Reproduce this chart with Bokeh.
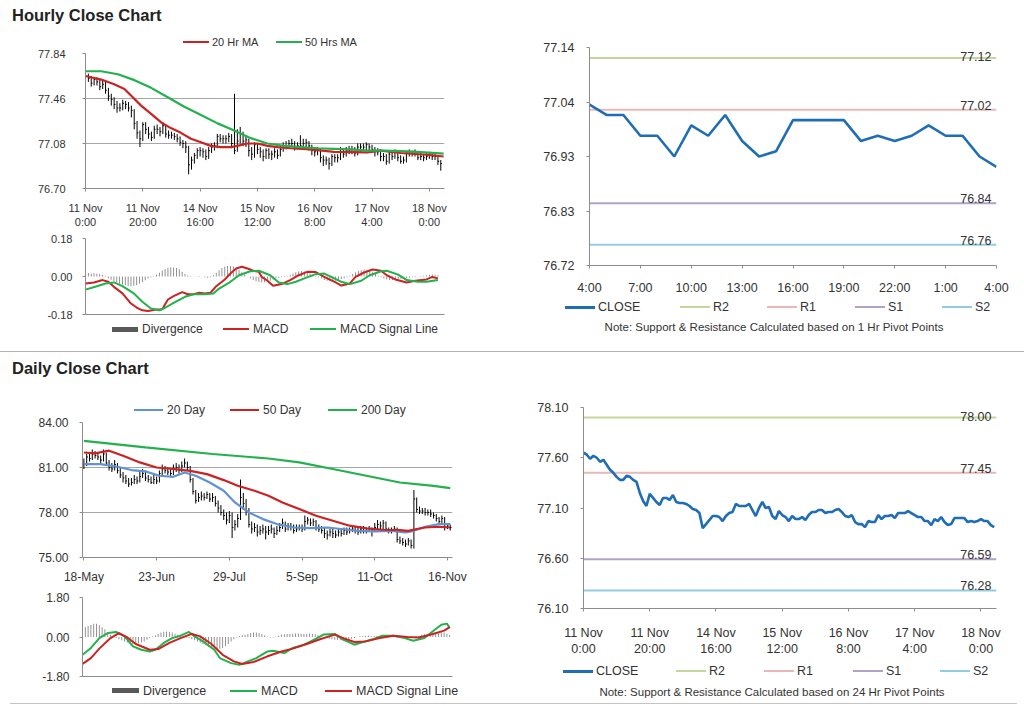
from bokeh.plotting import figure
from bokeh.models import Range1d, FixedTicker, NumeralTickFormatter, Label, Div
from bokeh.layouts import column, row
from bokeh.embed import file_html
from bokeh.resources import INLINE

FONT = "Liberation Sans"
CSSFONT = "'Liberation Sans',Arial,sans-serif"
RED = "#cc2222"
GREEN = "#22b14c"
LBLUE = "#5f93d3"
CBLUE = "#1f6db5"
GRID = "#a6a6a6"
AXIS = "#8c8c8c"
TXT = "#333333"
DIVC = "#7f7f7f"

# ---------------- hourly data (11 Nov 0:00 .. 18 Nov 4:00) ----------------
hourly_close = [
    77.65, 77.63, 77.59, 77.62, 77.60, 77.56, 77.58, 77.53, 77.48, 77.45,
    77.41, 77.38, 77.38, 77.42, 77.41, 77.38, 77.36, 77.25, 77.17, 77.12,
    77.24, 77.20, 77.16, 77.13, 77.20, 77.20, 77.18, 77.23, 77.16, 77.15,
    77.15, 77.14, 77.12, 77.09, 77.08, 77.05, 76.90, 76.94, 76.98, 77.02,
    77.02, 77.01, 76.97, 77.02, 77.05, 77.06, 77.14, 77.12, 77.12, 77.12,
    77.14, 77.08, 77.02, 77.10, 77.16, 77.10, 77.11, 77.02, 76.99, 77.07,
    77.03, 77.01, 76.97, 77.02, 76.99, 76.99, 77.01, 76.98, 77.03, 77.06,
    77.06, 77.08, 77.08, 77.05, 77.06, 77.06, 77.08, 77.09, 77.06, 77.02,
    77.01, 77.03, 76.96, 76.94, 76.94, 76.91, 76.97, 76.96, 76.96, 77.03,
    76.99, 77.02, 77.02, 77.03, 77.00, 77.05, 77.05, 77.05, 77.07, 77.05,
    77.03, 77.01, 77.01, 76.97, 76.97, 76.93, 76.99, 76.97, 77.01, 76.96,
    76.93, 76.94, 77.00, 77.00, 77.00, 77.00, 76.96, 76.97, 76.96, 76.97,
    76.99, 76.97, 76.97, 76.93, 76.91]
hourly_high = [
    77.70, 77.67, 77.65, 77.64, 77.64, 77.62, 77.61, 77.60, 77.55, 77.50,
    77.47, 77.44, 77.42, 77.45, 77.44, 77.43, 77.40, 77.37, 77.27, 77.19,
    77.26, 77.26, 77.22, 77.18, 77.23, 77.24, 77.22, 77.26, 77.24, 77.19,
    77.18, 77.17, 77.16, 77.14, 77.11, 77.10, 77.06, 76.97, 77.00, 77.04,
    77.05, 77.04, 77.03, 77.05, 77.08, 77.09, 77.16, 77.16, 77.15, 77.15,
    77.17, 77.16, 77.50, 77.20, 77.22, 77.18, 77.14, 77.12, 77.05, 77.09,
    77.08, 77.05, 77.03, 77.04, 77.04, 77.02, 77.04, 77.03, 77.06, 77.09,
    77.10, 77.11, 77.12, 77.10, 77.09, 77.15, 77.12, 77.12, 77.10, 77.07,
    77.04, 77.05, 77.04, 76.98, 76.97, 76.96, 76.99, 76.99, 76.99, 77.05,
    77.04, 77.05, 77.06, 77.06, 77.05, 77.08, 77.08, 77.08, 77.09, 77.08,
    77.07, 77.05, 77.04, 77.03, 77.00, 76.99, 77.01, 77.01, 77.03, 77.02,
    76.98, 76.97, 77.02, 77.03, 77.02, 77.03, 77.01, 77.00, 76.99, 77.00,
    77.01, 77.00, 77.00, 76.98, 76.94]
hourly_low = [
    77.62, 77.60, 77.56, 77.57, 77.57, 77.53, 77.54, 77.50, 77.44, 77.40,
    77.37, 77.34, 77.35, 77.36, 77.37, 77.35, 77.30, 77.20, 77.12, 77.05,
    77.10, 77.16, 77.12, 77.10, 77.12, 77.16, 77.14, 77.16, 77.13, 77.12,
    77.12, 77.11, 77.09, 77.06, 77.04, 77.00, 76.82, 76.86, 76.91, 76.95,
    76.97, 76.96, 76.94, 76.95, 77.00, 77.02, 77.04, 77.09, 77.08, 77.08,
    77.09, 77.04, 76.99, 77.01, 77.08, 77.06, 77.05, 76.97, 76.94, 76.96,
    76.99, 76.96, 76.93, 76.95, 76.95, 76.94, 76.96, 76.95, 76.97, 77.01,
    77.03, 77.04, 77.05, 77.02, 77.03, 77.03, 77.04, 77.05, 77.02, 76.98,
    76.97, 76.98, 76.92, 76.89, 76.90, 76.86, 76.89, 76.92, 76.92, 76.94,
    76.96, 76.97, 76.99, 76.99, 76.97, 76.98, 77.01, 77.02, 77.02, 77.01,
    77.00, 76.97, 76.98, 76.93, 76.93, 76.90, 76.91, 76.94, 76.95, 76.93,
    76.91, 76.91, 76.92, 76.97, 76.97, 76.97, 76.94, 76.94, 76.93, 76.94,
    76.95, 76.94, 76.94, 76.90, 76.85]

ma20h_x = [0, 5.5, 10, 13.6, 16.5, 19.4, 22.9, 26.3, 29.8, 33.3, 36.8, 40.3, 43.7, 47.2,
           50.7, 53, 56.5, 60, 63.5, 67, 71.6, 78.5, 86.7, 98.3, 103, 110, 119, 125]
ma20h = [77.65, 77.62, 77.58, 77.54, 77.47, 77.40, 77.33, 77.26, 77.21, 77.17, 77.12, 77.09,
         77.06, 77.05, 77.05, 77.06, 77.08, 77.08, 77.06, 77.05, 77.04, 77.03, 77.01, 77.005,
         77.02, 77.00, 76.985, 76.97]
ma50h_x = [0, 5.5, 11.3, 17.1, 22.9, 28.7, 34.5, 40.3, 46.1, 51.9, 57.7, 63.5, 69.3, 75.1,
           80.9, 86.7, 92.5, 98.3, 104, 110, 115.7, 125]
ma50h = [77.69, 77.69, 77.665, 77.615, 77.55, 77.47, 77.39, 77.32, 77.25, 77.19, 77.125,
         77.08, 77.06, 77.05, 77.04, 77.035, 77.03, 77.02, 77.02, 77.015, 77.01, 76.995]

macd_h_x = [0, 3, 6, 8, 10, 13, 16, 18, 20, 22, 25, 27, 29, 31, 34, 36, 38, 40, 42, 44, 46, 49,
            51, 53, 55, 57, 59, 61, 62, 64, 66, 69, 72, 75, 78, 81, 84, 88, 90, 93, 95, 98, 101,
            104, 106, 109, 113, 116, 120, 122, 124]
macd_h = [-0.033, -0.028, -0.017, -0.025, -0.049, -0.08, -0.128, -0.147, -0.16, -0.163,
          -0.156, -0.155, -0.109, -0.093, -0.074, -0.084, -0.084, -0.077, -0.081, -0.077,
          -0.046, -0.014, 0.014, 0.038, 0.046, 0.038, 0.027, 0.022, -0.002, -0.02,
          -0.044, -0.036, -0.017, 0.006, 0.022, 0.021, -0.002, -0.028, -0.043, -0.033,
          -0.002, 0.019, 0.033, 0.027, 0.006, -0.014, -0.028, -0.02, -0.014, -0.002, -0.009]
signal_h_x = [0, 4, 7, 10, 13, 17, 20, 23, 26, 28, 31, 35, 38, 42, 45, 47, 51, 54, 58, 61, 65,
              68, 71, 74, 77, 81, 84, 87, 90, 93, 97, 100, 104, 106, 110, 113, 117, 120, 124]
signal_h = [-0.062, -0.046, -0.033, -0.028, -0.046, -0.08, -0.12, -0.152, -0.16, -0.148,
            -0.125, -0.096, -0.084, -0.084, -0.081, -0.057, -0.025, 0.006, 0.025, 0.027,
            0.006, -0.028, -0.036, -0.025, -0.009, 0.011, 0.014, -0.005, -0.025, -0.036,
            -0.02, 0.006, 0.025, 0.027, 0.009, -0.017, -0.025, -0.025, -0.017]
diverg_h = [
    0.015, 0.016, 0.014, 0.015, 0.013, 0.012, 0.008, 0.003,
    -0.008, -0.015, -0.022, -0.028, -0.034, -0.038, -0.042, -0.045, -0.046, -0.044, -0.04,
    -0.034, -0.026, -0.018, -0.01, -0.004,
    0.002, 0.008, 0.018, 0.028, 0.036, 0.042, 0.044, 0.043, 0.04, 0.034,
    0.022, 0.012, 0.005, 0.002, 0.001, -0.001, 0.002, 0.0, -0.004, -0.006, -0.003, 0.006,
    0.018, 0.03, 0.04, 0.046, 0.05, 0.05, 0.048, 0.042, 0.032, 0.02, 0.01, 0.0, -0.008,
    -0.016, -0.022, -0.026, -0.028, -0.027, -0.024, -0.02, -0.014,
    -0.008, -0.006, -0.004, -0.002, 0.002,
    0.008, 0.014, 0.02, 0.024, 0.026, 0.024, 0.02, 0.014, 0.008,
    0.002, -0.004, -0.01, -0.016, -0.02, -0.022, -0.022, -0.02, -0.016, -0.012, -0.008, -0.004,
    0.004, 0.012, 0.02, 0.026, 0.03, 0.032, 0.03, 0.026, 0.02, 0.012,
    0.004, -0.004, -0.01, -0.014, -0.016, -0.017, -0.016, -0.014, -0.012, -0.01, -0.008,
    -0.006, -0.004, -0.003, -0.001,
    0.002, 0.004, 0.006, 0.008, 0.01, 0.008, 0.006]

hourly_tick_idx = [0, 20, 40, 60, 80, 100, 120]
hourly_tick_labels = ["11 Nov\n0:00", "11 Nov\n20:00", "14 Nov\n16:00", "15 Nov\n12:00",
                      "16 Nov\n8:00", "17 Nov\n4:00", "18 Nov\n0:00"]
last25_tick_idx = [0, 3, 6, 9, 12, 15, 18, 21, 24]
last25_tick_labels = ["4:00", "7:00", "10:00", "13:00", "16:00", "19:00", "22:00", "1:00", "4:00"]

pivot_names = ["R2", "R1", "S1", "S2"]
pivot_colors = ["#c3d69b", "#e6b9b8", "#b3a2c7", "#93cddd"]
pivot_1h = [77.12, 77.02, 76.84, 76.76]
pivot_24h = [78.00, 77.45, 76.59, 76.28]

hp_yticks = [76.70, 77.08, 77.46, 77.84]
hm_yticks = [-0.18, 0.0, 0.18]
tr_yticks = [76.72, 76.825, 76.93, 77.035, 77.14]
tr_ylabels = ["76.72", "76.83", "76.93", "77.04", "77.14"]
br_yticks = [76.10, 76.60, 77.10, 77.60, 78.10]

# ---------------- daily data (18 May .. 17 Nov) ----------------
daily_close = [
    81.2, 81.7, 81.6, 81.9, 81.8, 81.7, 81.5, 81.9, 81.3, 81.0,
    80.9, 81.2, 80.8, 80.5, 80.3, 80.1, 79.9, 80.0, 80.2, 80.1,
    80.4, 80.6, 80.3, 80.2, 80.0, 80.2, 80.1, 80.6, 80.9, 80.8,
    80.7, 80.6, 80.9, 81.0, 80.8, 81.1, 81.3, 81.0, 80.2, 79.4,
    78.8, 79.0, 79.1, 79.0, 79.2, 78.9, 79.0, 78.6, 78.3, 78.0,
    77.8, 77.5, 77.8, 77.0, 77.2, 77.6, 79.0, 78.6, 78.1, 77.2,
    76.9, 77.0, 76.7, 76.8, 76.9, 76.7, 76.8, 76.9, 76.6, 76.8,
    77.0, 77.3, 76.9, 77.1, 77.0, 76.8, 76.9, 77.0, 76.9, 77.4,
    77.5, 77.3, 77.4, 77.0, 76.9, 76.8, 76.6, 76.5, 76.7, 76.6,
    76.5, 76.7, 76.6, 76.8, 76.7, 76.8, 76.9, 76.8, 76.7, 76.9,
    76.8, 76.8, 76.9, 76.8, 77.0, 77.2, 77.1, 77.3, 76.9, 76.8,
    76.8, 76.9, 76.2, 76.1, 76.0, 75.9, 76.1, 75.8, 78.9, 78.2,
    78.1, 78.1, 78.0, 78.0, 77.9, 77.8, 77.6, 77.4, 77.6, 77.0,
    77.1, 77.0]
daily_high = [
    81.6, 81.9, 82.0, 82.2, 82.1, 82.0, 81.8, 82.2, 82.0, 81.5,
    81.3, 81.5, 81.3, 81.0, 80.7, 80.5, 80.3, 80.3, 80.5, 80.4,
    80.7, 80.9, 80.8, 80.5, 80.4, 80.5, 80.4, 80.8, 81.2, 81.1,
    81.0, 80.9, 81.2, 81.3, 81.2, 81.4, 81.6, 81.4, 81.1, 80.3,
    79.5, 79.3, 79.4, 79.3, 79.4, 79.3, 79.3, 79.1, 78.8, 78.5,
    78.2, 78.0, 78.1, 78.0, 77.5, 77.9, 80.2, 79.3, 78.9, 78.3,
    77.4, 77.3, 77.2, 77.1, 77.2, 77.1, 77.1, 77.2, 77.0, 77.1,
    77.3, 77.6, 77.4, 77.3, 77.3, 77.2, 77.2, 77.2, 77.2, 77.8,
    77.7, 77.6, 77.6, 77.5, 77.2, 77.1, 77.0, 76.8, 76.9, 76.9,
    76.8, 76.9, 76.9, 77.0, 77.0, 77.0, 77.1, 77.1, 77.0, 77.1,
    77.1, 77.0, 77.1, 77.0, 77.3, 77.5, 77.4, 77.5, 77.4, 77.0,
    77.0, 77.1, 77.0, 76.4, 76.3, 76.2, 76.3, 76.2, 79.5, 79.0,
    78.4, 78.3, 78.3, 78.2, 78.2, 78.0, 77.9, 77.7, 77.8, 77.7,
    77.3, 77.2]
daily_low = [
    80.9, 81.1, 81.4, 81.5, 81.6, 81.5, 81.3, 81.4, 81.1, 80.8,
    80.7, 80.8, 80.6, 80.3, 80.0, 79.9, 79.7, 79.8, 79.9, 79.9,
    80.0, 80.3, 80.1, 80.0, 79.9, 79.9, 79.9, 80.0, 80.5, 80.6,
    80.5, 80.4, 80.5, 80.7, 80.6, 80.7, 81.0, 80.8, 80.0, 79.2,
    78.6, 78.7, 78.8, 78.8, 78.9, 78.7, 78.7, 78.4, 78.0, 77.8,
    77.5, 77.2, 77.3, 76.3, 76.8, 77.0, 77.5, 78.2, 77.8, 77.0,
    76.6, 76.7, 76.4, 76.5, 76.6, 76.2, 76.5, 76.6, 76.3, 76.5,
    76.7, 76.9, 76.7, 76.8, 76.8, 76.6, 76.7, 76.8, 76.7, 76.8,
    77.2, 77.1, 77.1, 76.8, 76.7, 76.6, 76.3, 76.2, 76.4, 76.3,
    76.3, 76.4, 76.4, 76.5, 76.5, 76.6, 76.7, 76.6, 76.5, 76.6,
    76.6, 76.6, 76.7, 76.4, 76.7, 76.9, 76.9, 76.9, 76.7, 76.6,
    76.6, 76.7, 76.0, 75.9, 75.8, 75.7, 75.8, 75.6, 75.6, 78.0,
    77.9, 77.9, 77.8, 77.8, 77.7, 77.6, 77.4, 77.2, 77.2, 76.8,
    76.9, 76.8]

ma20d_x = [0, 6, 12, 17, 22, 27, 32, 36, 40, 45, 50, 54, 59, 64, 69, 75, 81, 87, 92, 98, 104,
           110, 115, 118, 122, 127, 131]
ma20d = [81.23, 81.23, 81.05, 80.83, 80.74, 80.45, 80.38, 80.67, 80.45, 80.0, 79.45, 78.67,
         78.0, 77.56, 77.23, 77.0, 76.96, 77.0, 76.9, 76.78, 76.74, 76.78, 76.67, 76.78, 77.05,
         77.23, 77.23]
ma50d_x = [0, 4, 9, 14, 20, 26, 32, 38, 44, 50, 55, 61, 66, 71, 77, 83, 89, 95, 101, 107, 113,
           116, 119, 122, 127, 131]
ma50d = [82.0, 81.94, 82.12, 81.78, 81.34, 81.0, 80.9, 80.78, 80.56, 80.16, 79.78, 79.45,
         79.12, 78.67, 78.23, 77.78, 77.45, 77.12, 76.94, 76.85, 76.83, 76.78, 76.9, 77.0,
         77.05, 77.0]
ma200d_x = [0, 22, 46, 66, 77, 89, 101, 113, 125, 131]
ma200d = [82.78, 82.34, 81.9, 81.6, 81.34, 80.9, 80.45, 80.0, 79.78, 79.63]

macd_d_x = [0, 3, 6, 9, 12, 15, 18, 21, 24, 26, 29, 32, 35, 38, 40, 43, 47, 49, 53, 56, 59, 62,
            66, 68, 72, 75, 79, 82, 86, 90, 93, 97, 100, 104, 107, 111, 115, 118, 122, 125,
            128, 130, 131]
macd_d = [-0.81, -0.5, -0.05, 0.18, 0.23, 0.03, -0.43, -0.58, -0.66, -0.58, -0.27, -0.05,
          0.06, 0.23, 0.03, -0.2, -0.58, -0.96, -1.19, -1.27, -1.11, -0.96, -0.66, -0.63,
          -0.73, -0.5, -0.35, -0.17, 0.11, 0.14, -0.12, -0.35, -0.23, -0.09, 0.06, 0.06,
          -0.05, -0.17, -0.05, 0.26, 0.56, 0.61, 0.41]
signal_d_x = [0, 3, 6, 10, 13, 16, 19, 24, 27, 31, 35, 39, 42, 46, 50, 54, 57, 61, 66, 71, 75,
              80, 85, 90, 93, 97, 101, 106, 111, 116, 120, 125, 129, 131]
signal_d = [-1.23, -0.96, -0.53, -0.05, 0.18, -0.02, -0.32, -0.58, -0.55, -0.27, -0.05, 0.14,
            0.03, -0.32, -0.81, -1.11, -1.23, -1.14, -0.88, -0.66, -0.53, -0.32, -0.09, 0.11,
            -0.05, -0.23, -0.2, -0.05, 0.06, 0.0, -0.02, 0.14, 0.29, 0.45]
diverg_d = [
    0.35, 0.45, 0.5, 0.55, 0.6, 0.6, 0.55, 0.45, 0.35, 0.2,
    0.1, 0.0, -0.05, -0.1, -0.15,
    -0.2, -0.25, -0.3, -0.32, -0.32, -0.3, -0.25, -0.2, -0.12, -0.05, 0.02, 0.08,
    0.14, 0.2, 0.24, 0.25, 0.24, 0.2, 0.15, 0.1, 0.05, 0.02,
    -0.02, -0.06, -0.1, -0.15, -0.2, -0.26, -0.32, -0.38, -0.44, -0.48, -0.52, -0.54, -0.54,
    -0.5, -0.42, -0.32, -0.2, -0.1, -0.02, 0.04, 0.08,
    0.1, 0.14, 0.18, 0.2, 0.2, 0.18, 0.14, 0.08, 0.02, -0.02, -0.02,
    0.02, 0.06, 0.1, 0.12, 0.14, 0.14, 0.15, 0.16, 0.16, 0.15, 0.14, 0.15, 0.16, 0.15, 0.12,
    0.08, 0.04, 0.0, -0.04, -0.08, -0.1,
    -0.12, -0.14, -0.15, -0.16, -0.15, -0.12, -0.08, -0.04, 0.0, 0.03, 0.05, 0.06,
    0.06, 0.05, 0.04, 0.04, 0.05, 0.05, 0.04, 0.03, 0.02, 0.0, -0.02, -0.04, -0.06, -0.06,
    -0.05, -0.04,
    -0.02, 0.02, 0.06, 0.1, 0.12, 0.14, 0.16, 0.18, 0.2, 0.22, 0.22, 0.2, 0.15, 0.1]

daily_tick_idx = [0, 26, 52, 78, 104, 130]
daily_tick_labels = ["18-May", "23-Jun", "29-Jul", "5-Sep", "11-Oct", "16-Nov"]
dp_yticks = [75.0, 78.0, 81.0, 84.0]
dm_yticks = [-1.8, 0.0, 1.8]


# ---------------- helpers ----------------
def base_fig(w, h, left, right, top, bottom, xr, yr):
    p = figure(width=w, height=h, x_range=Range1d(*xr), y_range=Range1d(*yr),
               output_backend="svg", toolbar_location=None,
               min_border_left=left, min_border_right=right,
               min_border_top=top, min_border_bottom=bottom, margin=(0, 0, 0, 0))
    p.outline_line_color = None
    p.xgrid.grid_line_color = None
    p.ygrid.grid_line_color = None
    p.background_fill_color = "white"
    p.border_fill_color = "white"
    for ax in (p.xaxis[0], p.yaxis[0]):
        ax.axis_line_color = AXIS
        ax.major_tick_line_color = AXIS
        ax.minor_tick_line_color = None
        ax.major_tick_out = 3
        ax.major_tick_in = 0
        ax.major_label_text_font = FONT
        ax.major_label_text_color = TXT
    return p


def set_y(p, ticks, size, standoff, labels=None, grid=None):
    ax = p.yaxis[0]
    ax.ticker = FixedTicker(ticks=ticks)
    ax.formatter = NumeralTickFormatter(format="0.00")
    if labels is not None:
        ax.major_label_overrides = {t: l for t, l in zip(ticks, labels)}
    ax.major_label_text_font_size = size
    ax.major_label_standoff = standoff
    if grid is not None:
        p.ygrid.ticker = FixedTicker(ticks=grid)
        p.ygrid.grid_line_color = GRID
        p.ygrid.grid_line_width = 1


def set_x(p, ticks, labels, size, standoff):
    ax = p.xaxis[0]
    ax.ticker = FixedTicker(ticks=ticks)
    ax.major_label_overrides = {t: l for t, l in zip(ticks, labels)}
    ax.major_label_text_font_size = size
    ax.major_label_standoff = standoff


def no_x_labels(p):
    ax = p.xaxis[0]
    ax.ticker = FixedTicker(ticks=[])
    ax.major_tick_out = 0
    ax.major_label_standoff = 0


def html_legend(w, h, items, yc, font_px, glyph_w, standoff, note=None, box_h=14, rule=None):
    """items: (glyph_x, label, colour, swatch thickness); note: (text, centre_x, centre_y);
    rule: (y, x0, x1) for a thin separator line."""
    parts = []
    for x, label, color, th in items:
        parts.append(
            f'<div style="position:absolute;left:{x}px;top:{yc - box_h / 2}px;height:{box_h}px;'
            f'display:flex;align-items:center;white-space:nowrap">'
            f'<span style="display:inline-block;width:{glyph_w}px;height:{th}px;'
            f'background:{color}"></span>'
            f'<span style="margin-left:{standoff}px">{label}</span></div>')
    if note is not None:
        text, cx, cy = note
        parts.append(
            f'<div style="position:absolute;left:{cx - 250}px;width:500px;top:{cy - 7}px;'
            f'height:14px;line-height:14px;text-align:center;font-size:11.5px;'
            f'white-space:nowrap">{text}</div>')
    if rule is not None:
        ry, rx0, rx1 = rule
        parts.append(
            f'<div style="position:absolute;left:{rx0}px;width:{rx1 - rx0}px;top:{ry}px;'
            f'height:1px;background:#c4c4c4"></div>')
    html = (f'<div style="position:relative;width:{w}px;height:{h}px;font-family:{CSSFONT};'
            f'font-size:{font_px}px;line-height:{box_h}px;color:{TXT}">' + "".join(parts)
            + '</div>')
    return Div(text=html, width=w, height=h, margin=(0, 0, 0, 0))


def ohlc(p, high, low, close):
    n = min(len(high), len(low), len(close))
    xs = list(range(n))
    p.segment(x0=xs, y0=low[:n], x1=xs, y1=high[:n], line_color="black", line_width=1)
    p.segment(x0=xs, y0=close[:n], x1=[x + 0.45 for x in xs], y1=close[:n],
              line_color="black", line_width=1)


def pivot_chart(w, h, left, right, top, bottom, close, levels, label_offsets, xr, yr,
                yticks, ylabels, xticks, xlabels, xstandoff):
    p = base_fig(w, h, left, right, top, bottom, xr, yr)
    fw = w - left - right
    set_y(p, yticks, "12.5px", 12, labels=ylabels)
    set_x(p, xticks, xlabels, "12.5px", xstandoff)
    for lvl, col, off in zip(levels, pivot_colors, label_offsets):
        p.line([xr[0], xr[1]], [lvl, lvl], line_color=col, line_width=2)
        p.add_layout(Label(x=fw - 5, y=lvl, x_units="screen", y_units="data",
                           text=f"{lvl:.2f}", text_align="right", text_baseline="alphabetic",
                           y_offset=off, text_font=FONT, text_font_size="12.5px",
                           text_color=TXT))
    xs = list(range(len(close)))
    p.line(xs, close, line_color=CBLUE, line_width=2.6)
    return p


def pivot_items(xs):
    return [(xs[0], "CLOSE", CBLUE, 3)] + [
        (x, n, c, 2) for x, n, c in zip(xs[1:], pivot_names, pivot_colors)]


# ---------------- hourly price (top-left) ----------------
hp_leg = html_legend(512, 16, [(183, "20 Hr MA", RED, 2), (276, "50 Hrs MA", GREEN, 2)],
                     11, 11, 26, 3)
p_hp = base_fig(512, 183, 83, 68, 6, 40, (0, 125.3), (76.70, 77.84))
set_y(p_hp, hp_yticks, "11px", 17, grid=hp_yticks[1:])
set_x(p_hp, hourly_tick_idx, hourly_tick_labels, "11px", 10)
ohlc(p_hp, hourly_high, hourly_low, hourly_close)
p_hp.line(ma20h_x, ma20h, line_color=RED, line_width=2.2)
p_hp.line(ma50h_x, ma50h, line_color=GREEN, line_width=2.2)

# ---------------- hourly MACD ----------------
p_hm = base_fig(512, 92, 85, 64, 8, 8, (0, 126.3), (-0.18, 0.18))
set_y(p_hm, hm_yticks, "11px", 10, grid=[0.18])
no_x_labels(p_hm)
p_hm.vbar(x=list(range(len(diverg_h))), top=diverg_h, bottom=0, width=0.3,
          fill_color=DIVC, line_color=None)
p_hm.line(macd_h_x, macd_h, line_color=RED, line_width=2)
p_hm.line(signal_h_x, signal_h, line_color=GREEN, line_width=2)
hm_leg = html_legend(512, 18, [(112, "Divergence", "#595959", 5), (223, "MACD", RED, 2),
                               (310, "MACD Signal Line", GREEN, 2)], 7, 12, 26, 4)

# ---------------- top-right pivot (1 Hr) ----------------
close_last25 = hourly_close[-25:]
p_tr = pivot_chart(512, 266, 77, 28, 16, 32, close_last25, pivot_1h, [1.5, 4.5, 4.5, 4.5],
                   (0, 24), (76.72, 77.14), tr_yticks, tr_ylabels, last25_tick_idx,
                   last25_tick_labels, 12)
tr_leg = html_legend(512, 43, pivot_items([53, 168, 255, 343, 430]), 10, 12.5, 30, 3,
                     note=("Note: Support &amp; Resistance Calculated based on 1 Hr Pivot Points",
                           262, 30))

# ---------------- daily price ----------------
dp_leg = html_legend(512, 35, [(134, "20 Day", LBLUE, 2), (230, "50 Day", RED, 2),
                               (328, "200 Day", GREEN, 2)], 28.5, 12, 29, 4)
p_dp = base_fig(512, 174, 81, 60, 6, 33, (-0.5, 131.8), (75.0, 84.0))
set_y(p_dp, dp_yticks, "12px", 11, grid=dp_yticks[1:])
set_x(p_dp, daily_tick_idx, daily_tick_labels, "12px", 9)
ohlc(p_dp, daily_high, daily_low, daily_close)
p_dp.line(ma20d_x, ma20d, line_color=LBLUE, line_width=2.2)
p_dp.line(ma50d_x, ma50d, line_color=RED, line_width=2.2)
p_dp.line(ma200d_x, ma200d, line_color=GREEN, line_width=2.2)

# ---------------- daily MACD ----------------
p_dm = base_fig(512, 94, 82, 60, 7, 8, (0, 132), (-1.8, 1.8))
set_y(p_dm, dm_yticks, "12px", 10, grid=[1.8])
no_x_labels(p_dm)
p_dm.vbar(x=list(range(len(diverg_d))), top=diverg_d, bottom=0, width=0.3,
          fill_color=DIVC, line_color=None)
p_dm.line(macd_d_x, macd_d, line_color=GREEN, line_width=2)
p_dm.line(signal_d_x, signal_d, line_color=RED, line_width=2)
dm_leg = html_legend(512, 22, [(112, "Divergence", "#595959", 5), (230, "MACD", GREEN, 2),
                               (325, "MACD Signal Line", RED, 2)], 6.5, 12.5, 27, 4,
                     rule=(19, 10, 512))

# ---------------- bottom-right pivot (24 Hr) ----------------
p_br = pivot_chart(512, 278, 71, 28, 26, 49, hourly_close, pivot_24h, [1.2, 4.5, 4.5, 4.5],
                   (0, 124.7), (76.10, 78.10), br_yticks, None, hourly_tick_idx,
                   hourly_tick_labels, 14)
br_leg = html_legend(512, 47, pivot_items([51, 164, 252, 341, 428]), 12, 12.5, 30, 3,
                     note=("Note: Support &amp; Resistance Calculated based on 24 Hr Pivot Points",
                           260, 33), rule=(44, 0, 505))

# ---------------- page layout ----------------
TSTYLE = ("font-family:'Liberation Sans',Arial,sans-serif;font-weight:bold;font-size:16.5px;"
          "line-height:19px;color:#222;padding-left:12px;padding-top:6px;")
title1 = Div(text=f'<div style="{TSTYLE}">Hourly Close Chart</div>',
             width=1024, height=31, margin=(0, 0, 0, 0))
sep = Div(text='<div style="width:1024px;height:12px;border-bottom:1px solid #b4b4b4"></div>',
          width=1024, height=13, margin=(0, 0, 0, 0))
title2 = Div(text=f'<div style="{TSTYLE}">Daily Close Chart</div>',
             width=1024, height=28, margin=(0, 0, 0, 0))

layout = column(
    title1,
    row(column(hp_leg, p_hp, p_hm, hm_leg, spacing=0),
        column(p_tr, tr_leg, spacing=0), spacing=0),
    sep,
    title2,
    row(column(dp_leg, p_dp, p_dm, dm_leg, spacing=0),
        column(p_br, br_leg, spacing=0), spacing=0),
    spacing=0,
)

open("out.html", "w").write(file_html(layout, INLINE))
